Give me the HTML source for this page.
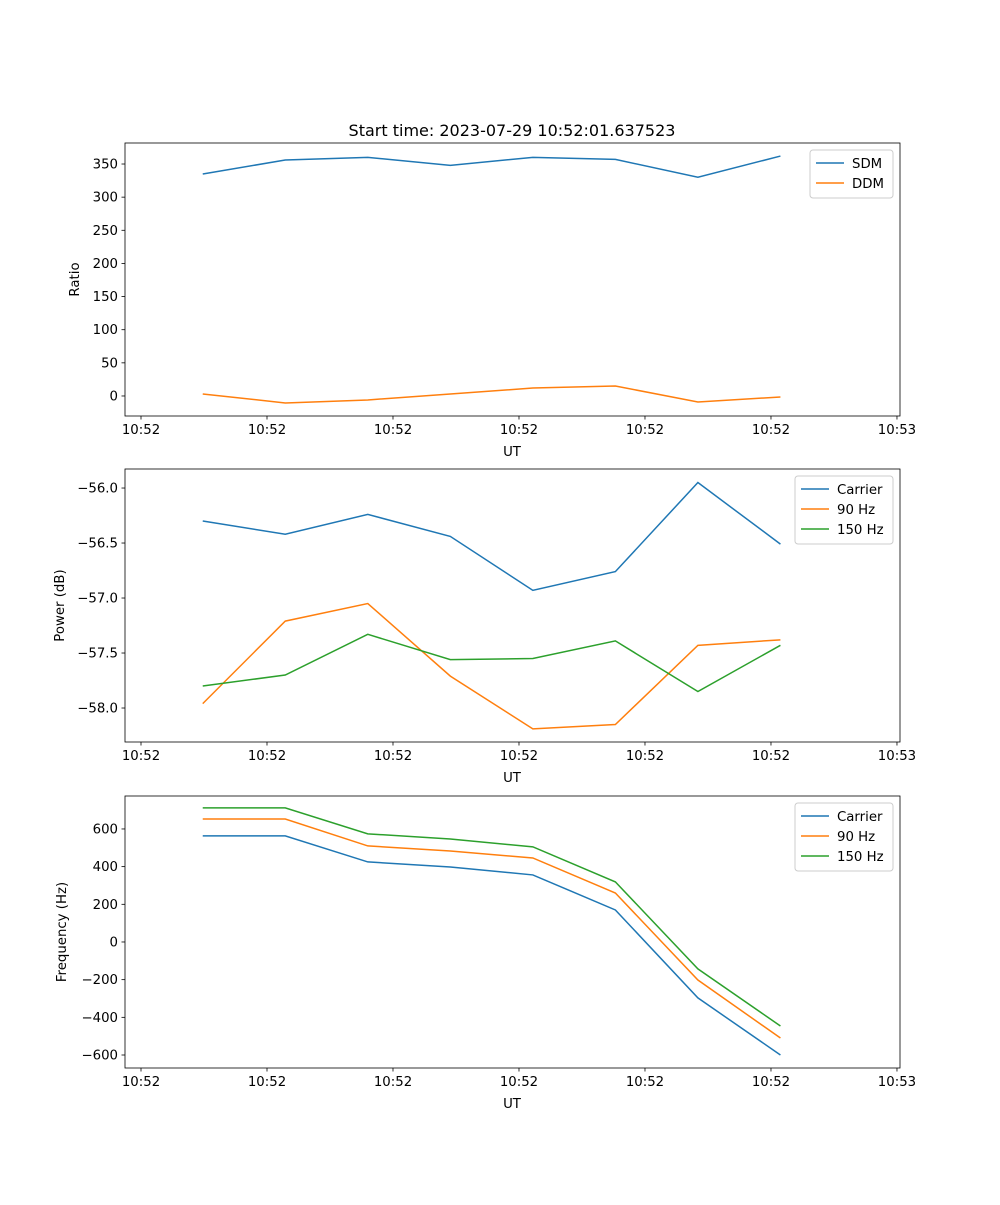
<!DOCTYPE html>
<html><head><meta charset="utf-8"><style>
body{margin:0;background:#fff}
svg text{font-family:"DejaVu Sans","Liberation Sans",sans-serif;font-size:13.3px;fill:#000}
</style></head><body>
<svg id="fig" width="1000" height="1200" xmlns="http://www.w3.org/2000/svg">
<text x="512" y="136" text-anchor="middle" style="font-size:16px">Start time: 2023-07-29 10:52:01.637523</text>
</svg>
<script>
const xIndex=[0,1,2,3,4,5,6,7];
const xTickLabels=["10:52","10:52","10:52","10:52","10:52","10:52","10:53"];
const ratioSDM=[335,356,360,348,360,357,330,362];
const ratioDDM=[3,-10.5,-6,3,12,15,-9,-1.5];
const ratioTicks=[0,50,100,150,200,250,300,350];
const powCarrier=[-56.30,-56.42,-56.24,-56.44,-56.93,-56.76,-55.95,-56.51];
const pow90=[-57.96,-57.21,-57.05,-57.71,-58.19,-58.15,-57.43,-57.38];
const pow150=[-57.80,-57.70,-57.33,-57.56,-57.55,-57.39,-57.85,-57.43];
const powTicks=[-56.0,-56.5,-57.0,-57.5,-58.0];
const freqCarrier=[563,563,425,398,356,170,-297,-600];
const freq90=[653,653,510,483,446,260,-202,-510];
const freq150=[712,712,574,547,505,319,-143,-446];
const freqTicks=[600,400,200,0,-200,-400,-600];

const NS="http://www.w3.org/2000/svg";
const svg=document.getElementById('fig');
const C=["#1f77b4","#ff7f0e","#2ca02c"];
function mk(t,a,p){const e=document.createElementNS(NS,t);for(const k in a)e.setAttribute(k,a[k]);(p||svg).appendChild(e);return e;}
const L=125,R=900;
const xmin=-0.127,xmax=6.024;
const sx=v=>L+(v-xmin)/(xmax-xmin)*(R-L);
const xOfIdx=i=>0.49+i*0.655;

function panel(name,top,bot,ymin,ymax,ticks,fmt,ylabel,series,labels,legendW){
  const sy=v=>bot-(v-ymin)/(ymax-ymin)*(bot-top);
  const g=mk('g',{});
  
  
  // y ticks
  ticks.forEach(t=>{
    const y=sy(t);
    mk('line',{x1:L-3.5,x2:L,y1:y,y2:y,stroke:'#000','stroke-width':0.8},g);
    const tx=mk('text',{x:L-7,y:y+4.5,'text-anchor':'end'},g);
    tx.textContent=fmt(t);
    
    
  });
  // x ticks
  xTickLabels.forEach((lab,i)=>{
    const x=sx(i);
    mk('line',{x1:x,x2:x,y1:bot,y2:bot+3.5,stroke:'#000','stroke-width':0.8},g);
    const tx=mk('text',{x:x,y:bot+18,'text-anchor':'middle'},g);
    tx.textContent=lab;
    
    
  });
  const xl=mk('text',{x:512,y:bot+40,'text-anchor':'middle'},g);
  xl.textContent='UT';
  
  
  const yl=mk('text',{x:0,y:0,'text-anchor':'middle',transform:`translate(${ylabel[1]},${(top+bot)/2}) rotate(-90)`},g);
  yl.textContent=ylabel[0];
  
  
  series.forEach((s,k)=>{
    const pts=xIndex.map(i=>sx(xOfIdx(i))+','+sy(s[i])).join(' ');
    const pl=mk('polyline',{points:pts,fill:'none',stroke:C[k],'stroke-width':1.5},g);
    
    
  });
  mk('rect',{x:L,y:top,width:R-L,height:bot-top,fill:'none',stroke:'#000','stroke-width':0.8},g);
  // legend
  const lx=R-7-legendW, ly=top+7, lh=8+labels.length*20;
  const lg=mk('g',{},g);
  
  
  mk('rect',{x:lx,y:ly,width:legendW,height:lh,rx:3,fill:'#fff',stroke:'#ccc','stroke-width':1},lg);
  labels.forEach((lab,k)=>{
    const yy=ly+13+k*20;
    mk('line',{x1:lx+6,x2:lx+34,y1:yy,y2:yy,stroke:C[k],'stroke-width':1.5},lg);
    const t=mk('text',{x:lx+42,y:yy+5},lg);
    t.textContent=lab;
    
    
  });
}
panel('ratio',143,416,-30.2,381.7,ratioTicks,v=>String(v),['Ratio',79],[ratioSDM,ratioDDM],['SDM','DDM'],83);
panel('power',469,742,-58.309,-55.827,powTicks,v=>v.toFixed(1).replace('-','\u2212'),['Power (dB)',64],[powCarrier,pow90,pow150],['Carrier','90 Hz','150 Hz'],98);
panel('frequency',796,1068,-669,775,freqTicks,v=>String(v).replace('-','\u2212'),['Frequency (Hz)',66],[freqCarrier,freq90,freq150],['Carrier','90 Hz','150 Hz'],98);
</script>
</body></html>
